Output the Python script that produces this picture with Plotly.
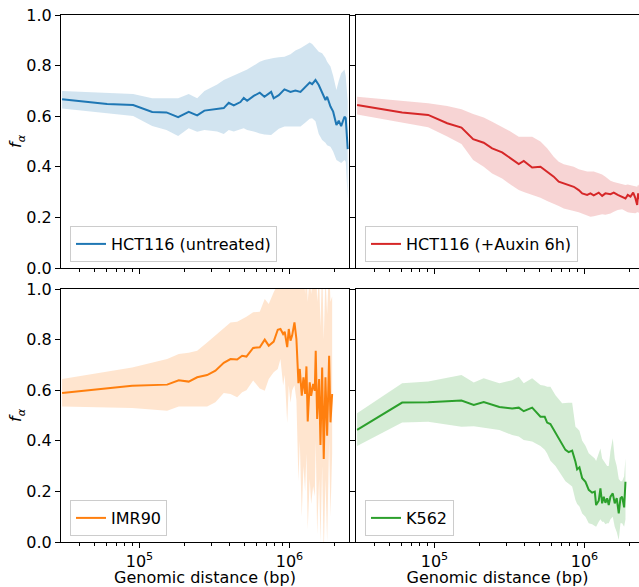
import plotly.graph_objects as go
from plotly.subplots import make_subplots

# HCT116 untreated
hct_x = [30500, 60900, 90800, 121600, 151400, 181100, 213000, 242500, 271000, 329600,
         364800, 393800, 425400, 471300, 495800, 522400, 578000, 634000, 681000, 755000,
         785000, 849000, 926000, 1016000, 1096000, 1184000, 1278000, 1365000, 1417000, 1491000,
         1568000, 1652000, 1738000, 1783000, 1877000, 1956000, 2057000, 2132000, 2212000, 2327000,
         2373000, 2446000]
hct_mean = [0.667, 0.648, 0.644, 0.617, 0.615, 0.596, 0.617, 0.603, 0.622, 0.627,
            0.632, 0.653, 0.643, 0.656, 0.672, 0.661, 0.680, 0.693, 0.677, 0.696,
            0.671, 0.683, 0.706, 0.696, 0.701, 0.696, 0.714, 0.733, 0.727, 0.743,
            0.723, 0.690, 0.664, 0.677, 0.638, 0.618, 0.565, 0.582, 0.561, 0.598,
            0.592, 0.470]
hct_hi = [0.700, 0.692, 0.688, 0.671, 0.671, 0.671, 0.688, 0.671, 0.700, 0.725,
          0.743, 0.752, 0.760, 0.770, 0.776, 0.785, 0.800, 0.815, 0.822, 0.829,
          0.830, 0.833, 0.835, 0.845, 0.860, 0.869, 0.880, 0.891, 0.885, 0.870,
          0.855, 0.849, 0.830, 0.815, 0.796, 0.760, 0.704, 0.740, 0.770, 0.785,
          0.760, 0.657]
hct_lo = [0.630, 0.612, 0.601, 0.561, 0.545, 0.522, 0.552, 0.539, 0.545, 0.540,
          0.530, 0.545, 0.540, 0.548, 0.552, 0.545, 0.540, 0.532, 0.528, 0.526,
          0.535, 0.550, 0.559, 0.559, 0.559, 0.559, 0.575, 0.590, 0.592, 0.580,
          0.530, 0.506, 0.495, 0.485, 0.479, 0.460, 0.427, 0.420, 0.415, 0.427,
          0.420, 0.275]

# HCT116 +auxin 6h
aux_x = [30500, 60900, 90800, 121600, 151400, 181100, 213000, 242500, 282600, 321000,
         364800, 393800, 448000, 509000, 564000, 624000, 674000, 728000, 785000, 849000,
         916000, 966000, 1042000, 1096000, 1153000, 1245000, 1312000, 1380000, 1491000, 1568000,
         1667000, 1783000, 1877000, 1944000, 2027000, 2113000, 2188000, 2246000, 2280000, 2327000,
         2446000]
aux_mean = [0.644, 0.615, 0.605, 0.572, 0.555, 0.509, 0.495, 0.473, 0.457, 0.434,
            0.411, 0.423, 0.397, 0.400, 0.381, 0.361, 0.341, 0.335, 0.328, 0.321,
            0.308, 0.295, 0.289, 0.295, 0.287, 0.298, 0.285, 0.295, 0.292, 0.298,
            0.289, 0.282, 0.275, 0.289, 0.282, 0.298, 0.275, 0.249, 0.295, 0.275,
            0.270]
aux_hi = [0.677, 0.660, 0.651, 0.640, 0.627, 0.609, 0.595, 0.578, 0.558, 0.540,
          0.519, 0.519, 0.519, 0.500, 0.473, 0.440, 0.420, 0.410, 0.405, 0.400,
          0.390, 0.385, 0.381, 0.381, 0.381, 0.375, 0.370, 0.361, 0.345, 0.340,
          0.335, 0.330, 0.328, 0.330, 0.328, 0.325, 0.322, 0.321, 0.330, 0.321,
          0.320]
aux_lo = [0.607, 0.575, 0.556, 0.520, 0.490, 0.427, 0.400, 0.374, 0.354, 0.330,
          0.308, 0.300, 0.289, 0.278, 0.265, 0.255, 0.245, 0.235, 0.229, 0.225,
          0.220, 0.215, 0.205, 0.203, 0.205, 0.210, 0.212, 0.210, 0.215, 0.222,
          0.229, 0.232, 0.225, 0.220, 0.218, 0.216, 0.216, 0.220, 0.220, 0.216,
          0.215]

# IMR90
imr_x = [30500, 89400, 153000, 182800, 213000, 242500, 282600, 321000, 364800, 404500,
         448000, 483600, 516700, 572700, 634000, 684300, 727800, 785000, 835700, 871000,
         907600, 930000, 966000, 989500, 1016000, 1042000, 1080000, 1113000, 1148000, 1172000,
         1208000, 1240000, 1272000, 1298000, 1324000, 1365000, 1395000, 1439000, 1475000, 1497000,
         1530000, 1577000, 1610000, 1652000, 1693000, 1738000, 1783000, 1839000, 1877000, 1926000]
imr_mean = [0.589, 0.618, 0.622, 0.639, 0.634, 0.651, 0.660, 0.677, 0.708, 0.723,
            0.721, 0.736, 0.733, 0.767, 0.770, 0.800, 0.776, 0.792, 0.839, 0.842,
            0.822, 0.831, 0.770, 0.842, 0.796, 0.816, 0.868, 0.802, 0.628, 0.684,
            0.578, 0.651, 0.585, 0.694, 0.476, 0.631, 0.578, 0.625, 0.598, 0.756,
            0.486, 0.644, 0.383, 0.690, 0.328, 0.651, 0.420, 0.736, 0.473, 0.585]
imr_hi = [0.644, 0.690, 0.723, 0.743, 0.748, 0.756, 0.789, 0.816, 0.845, 0.868,
          0.871, 0.881, 0.890, 0.908, 0.910, 0.960, 0.941, 0.987, 1.02, 1.04,
          1.05, 1.05, 1.05, 1.10, 1.08, 1.10, 1.12, 1.05, 1.00, 1.05,
          1.00, 1.08, 0.98, 1.10, 0.95, 1.05, 0.98, 1.05, 1.00, 1.15,
          0.95, 1.05, 0.85, 1.10, 0.80, 1.05, 0.90, 1.10, 0.95, 0.97]
imr_lo = [0.536, 0.530, 0.519, 0.536, 0.536, 0.536, 0.536, 0.552, 0.589, 0.585,
          0.572, 0.592, 0.600, 0.638, 0.607, 0.598, 0.644, 0.671, 0.684, 0.723,
          0.62, 0.66, 0.47, 0.62, 0.55, 0.60, 0.62, 0.56, 0.24, 0.40,
          0.10, 0.30, 0.20, 0.35, 0.05, 0.25, 0.15, 0.22, 0.18, 0.40,
          0.03, 0.25, 0.00, 0.30, -0.05, 0.25, 0.00, 0.40, 0.10, 0.35]

# K562
k562_x = [30500, 60900, 90800, 151400, 182800, 213000, 271000, 329600, 364800, 393800,
          448000, 509000, 543500, 564000, 593000, 641000, 710000, 747000, 785000, 828000,
          871000, 894000, 926000, 966000, 1016000, 1068000, 1125000, 1172000, 1196000, 1245000,
          1278000, 1312000, 1345000, 1380000, 1417000, 1452000, 1491000, 1544000, 1592000, 1641000,
          1693000, 1738000, 1783000, 1839000, 1877000]
k562_mean = [0.443, 0.551, 0.552, 0.559, 0.542, 0.553, 0.534, 0.528, 0.531, 0.517,
             0.531, 0.495, 0.495, 0.472, 0.466, 0.430, 0.387, 0.364, 0.355, 0.361,
             0.317, 0.287, 0.295, 0.252, 0.238, 0.206, 0.195, 0.199, 0.146, 0.163,
             0.212, 0.153, 0.179, 0.155, 0.173, 0.146, 0.179, 0.192, 0.153, 0.173,
             0.113, 0.173, 0.179, 0.137, 0.238]
k562_hi = [0.509, 0.627, 0.634, 0.660, 0.630, 0.647, 0.627, 0.639, 0.653, 0.627,
           0.647, 0.621, 0.618, 0.614, 0.614, 0.580, 0.548, 0.550, 0.550, 0.550,
           0.456, 0.45, 0.44, 0.40, 0.38, 0.351, 0.34, 0.33, 0.32, 0.35,
           0.37, 0.33, 0.32, 0.31, 0.30, 0.30, 0.36, 0.41, 0.33, 0.30,
           0.25, 0.24, 0.24, 0.26, 0.331]
k562_lo = [0.379, 0.472, 0.475, 0.456, 0.458, 0.453, 0.443, 0.423, 0.417, 0.403,
           0.397, 0.379, 0.365, 0.350, 0.321, 0.300, 0.258, 0.240, 0.230, 0.219,
           0.166, 0.150, 0.140, 0.113, 0.10, 0.074, 0.07, 0.065, 0.06, 0.08,
           0.09, 0.08, 0.08, 0.07, 0.074, 0.074, 0.09, 0.10, 0.06, 0.04,
           0.008, 0.074, 0.074, 0.06, 0.09]

FONT = "DejaVu Sans"

panels = [
    # row, col, name, x, mean, hi, lo, line colour, band colour, legend id
    (1, 1, "HCT116 (untreated)", hct_x, hct_mean, hct_hi, hct_lo,
     "#1f77b4", "rgba(31,119,180,0.2)", "legend"),
    (1, 2, "HCT116 (+Auxin 6h)", aux_x, aux_mean, aux_hi, aux_lo,
     "#d62728", "rgba(214,39,40,0.2)", "legend2"),
    (2, 1, "IMR90", imr_x, imr_mean, imr_hi, imr_lo,
     "#ff7f0e", "rgba(255,127,14,0.2)", "legend3"),
    (2, 2, "K562", k562_x, k562_mean, k562_hi, k562_lo,
     "#2ca02c", "rgba(44,160,44,0.2)", "legend4"),
]

fig = make_subplots(rows=2, cols=2)

for row, col, name, x, mean, hi, lo, color, band, leg in panels:
    # shaded band: lower edge first, then the upper edge fills down to it
    fig.add_trace(go.Scatter(x=x, y=lo, mode="lines", line=dict(width=0),
                             hoverinfo="skip", showlegend=False), row=row, col=col)
    fig.add_trace(go.Scatter(x=x, y=hi, mode="lines", line=dict(width=0),
                             fill="tonexty", fillcolor=band,
                             hoverinfo="skip", showlegend=False), row=row, col=col)
    fig.add_trace(go.Scatter(x=x, y=mean, mode="lines", name=name,
                             line=dict(color=color, width=2), legend=leg),
                  row=row, col=col)

minor_vals = [4e4, 5e4, 6e4, 7e4, 8e4, 9e4,
              2e5, 3e5, 4e5, 5e5, 6e5, 7e5, 8e5, 9e5, 2e6]

tick_font = dict(family=FONT, size=16, color="black")

# plot area is 578 x 527 px (margins l=61, t=15, b=45)
x_domains = {1: [0, 288 / 578], 2: [295 / 578, 1.0]}
y_domains = {1: [274 / 527, 1.0], 2: [0, 253 / 527]}
x_ranges = {1: [4.477, 4.477 + 288 / 150], 2: [4.477, 4.477 + 283 / 150]}

for row in (1, 2):
    for col in (1, 2):
        fig.update_xaxes(
            type="log", range=x_ranges[col], domain=x_domains[col],
            tickvals=[1e5, 1e6], ticktext=["10<sup>5</sup>", "10<sup>6</sup>"],
            showticklabels=(row == 2),
            ticks="outside", ticklen=5, tickwidth=1, tickcolor="black",
            minor=dict(tickvals=minor_vals, ticks="outside", ticklen=3,
                       tickwidth=1, tickcolor="black", showgrid=False),
            showline=True, linecolor="black", linewidth=1, mirror=True,
            showgrid=False, zeroline=False, tickfont=tick_font,
            automargin=False,
            row=row, col=col)
        fig.update_yaxes(
            range=[0, 1], domain=y_domains[row],
            tick0=0, dtick=0.2, tickformat=".1f",
            showticklabels=(col == 1),
            ticks="outside", ticklen=5, tickwidth=1, tickcolor="black",
            showline=True, linecolor="black", linewidth=1, mirror=(col == 1),
            showgrid=False, zeroline=False, tickfont=tick_font,
            automargin=False,
            row=row, col=col)
        if row == 2:
            fig.update_xaxes(title=dict(text="Genomic distance (bp)",
                                        font=tick_font, standoff=4),
                             row=row, col=col)
        if col == 1:
            fig.update_yaxes(title=dict(text="<i>f<sub>α</sub></i>",
                                        font=tick_font, standoff=0),
                             row=row, col=col)

legend_style = dict(
    font=dict(family=FONT, size=16, color="black"),
    bgcolor="rgba(255,255,255,0.8)", bordercolor="#cccccc", borderwidth=1,
    xanchor="left", yanchor="bottom", itemclick=False,
)
fig.update_layout(
    width=639, height=587,
    margin=dict(l=61, r=0, t=15, b=45),
    plot_bgcolor="white", paper_bgcolor="white",
    font=dict(family=FONT, size=16, color="black"),
    legend=dict(x=9 / 578, y=280 / 527, **legend_style),
    legend2=dict(x=304 / 578, y=280 / 527, **legend_style),
    legend3=dict(x=9 / 578, y=6 / 527, **legend_style),
    legend4=dict(x=304 / 578, y=6 / 527, **legend_style),
)

# drop the default 8px page margin so the figure fills the window
fig.write_html("out.html", config={"displayModeBar": False},
               post_script="document.body.style.margin = '0';")
